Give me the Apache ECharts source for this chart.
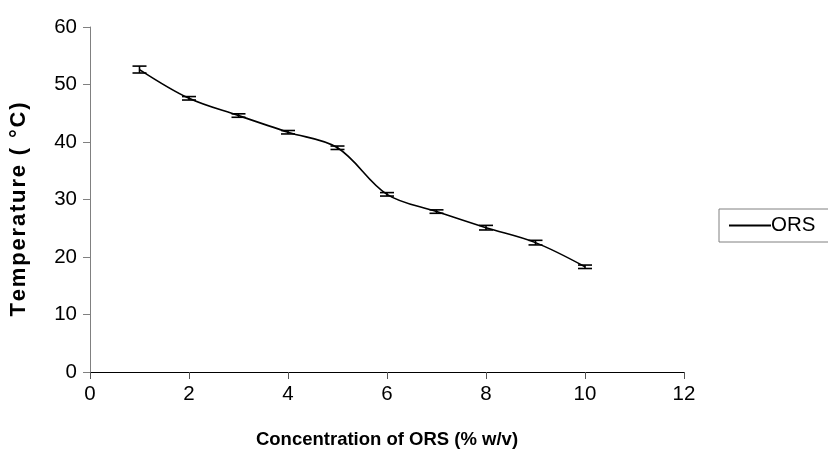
<!DOCTYPE html>
<html><head><meta charset="utf-8">
<script src="https://cdn.jsdelivr.net/npm/echarts@6/dist/echarts.min.js"></script>
<style>html,body{margin:0;padding:0;background:#fff}#c{width:828px;height:473px}</style>
</head><body><div id="c"></div>
<script>
const concentration = [1, 2, 3, 4, 5, 6, 7, 8, 9, 10];
const temperature = [52.6, 47.6, 44.6, 41.7, 39.0, 30.9, 27.9, 25.1, 22.5, 18.3];
const errorSD = [0.6, 0.3, 0.3, 0.3, 0.3, 0.3, 0.3, 0.4, 0.4, 0.3];
const seriesName = 'ORS';
const xTitle = 'Concentration of ORS (% w/v)';
const yTitle = 'Temperature ( °C)';

const chart = echarts.init(document.getElementById('c'));
const sans = '"Liberation Sans", Arial, sans-serif';
const spaced = yTitle.split('').join('\u200A');
chart.setOption({
  animation: false,
  grid: {left: 90, top: 27, width: 594, height: 345, containLabel: false},
  xAxis: {
    type: 'value', min: 0, max: 12, interval: 2,
    name: xTitle, nameLocation: 'middle', nameGap: 58,
    nameTextStyle: {fontFamily: sans, fontSize: 18.5, fontWeight: 'bold', color: '#000'},
    axisLine: {lineStyle: {color: '#000', width: 1}},
    axisTick: {show: true, length: 7, lineStyle: {color: '#555'}},
    axisLabel: {fontFamily: sans, fontSize: 20.5, color: '#000', margin: 12},
    splitLine: {show: false}
  },
  yAxis: {
    type: 'value', min: 0, max: 60, interval: 10,
    name: spaced, nameLocation: 'middle', nameGap: 60, nameRotate: 90,
    nameTextStyle: {fontFamily: sans, fontSize: 22, fontWeight: 'bold', color: '#000', padding: [0, 20, 0, 0]},
    axisLine: {show: true, lineStyle: {color: '#808080', width: 1}},
    axisTick: {show: true, length: 7, lineStyle: {color: '#808080'}},
    axisLabel: {fontFamily: sans, fontSize: 20.5, color: '#000', margin: 13},
    splitLine: {show: false}
  },
  legend: {
    data: [seriesName], left: 719, top: 209, orient: 'vertical',
    icon: 'rect', itemWidth: 42, itemHeight: 2,
    borderColor: '#808080', borderWidth: 1, backgroundColor: '#fff',
    padding: [6, 30, 6, 10],
    itemStyle: {color: '#000'},
    textStyle: {fontFamily: sans, fontSize: 20.5, color: '#000', padding: [0, 0, 0, -5]}
  },
  series: [
    {
      name: seriesName, type: 'line', smooth: 0.35, symbol: 'none',
      lineStyle: {color: '#000', width: 1.6}, itemStyle: {color: '#000'},
      data: concentration.map((x, i) => [x, temperature[i]]), z: 3
    },
    {
      name: 'err', type: 'custom',
      data: concentration.map((x, i) => [x, temperature[i] - errorSD[i], temperature[i] + errorSD[i]]),
      renderItem: function (params, api) {
        const lo = api.coord([api.value(0), api.value(1)]);
        const hi = api.coord([api.value(0), api.value(2)]);
        const hw = 7;
        const st = {stroke: '#000', lineWidth: 1.6};
        return {type: 'group', children: [
          {type: 'line', shape: {x1: lo[0], y1: lo[1], x2: hi[0], y2: hi[1]}, style: st},
          {type: 'line', shape: {x1: lo[0] - hw, y1: lo[1], x2: lo[0] + hw, y2: lo[1]}, style: st},
          {type: 'line', shape: {x1: hi[0] - hw, y1: hi[1], x2: hi[0] + hw, y2: hi[1]}, style: st}
        ]};
      }, z: 4
    }
  ]
});
</script></body></html>
